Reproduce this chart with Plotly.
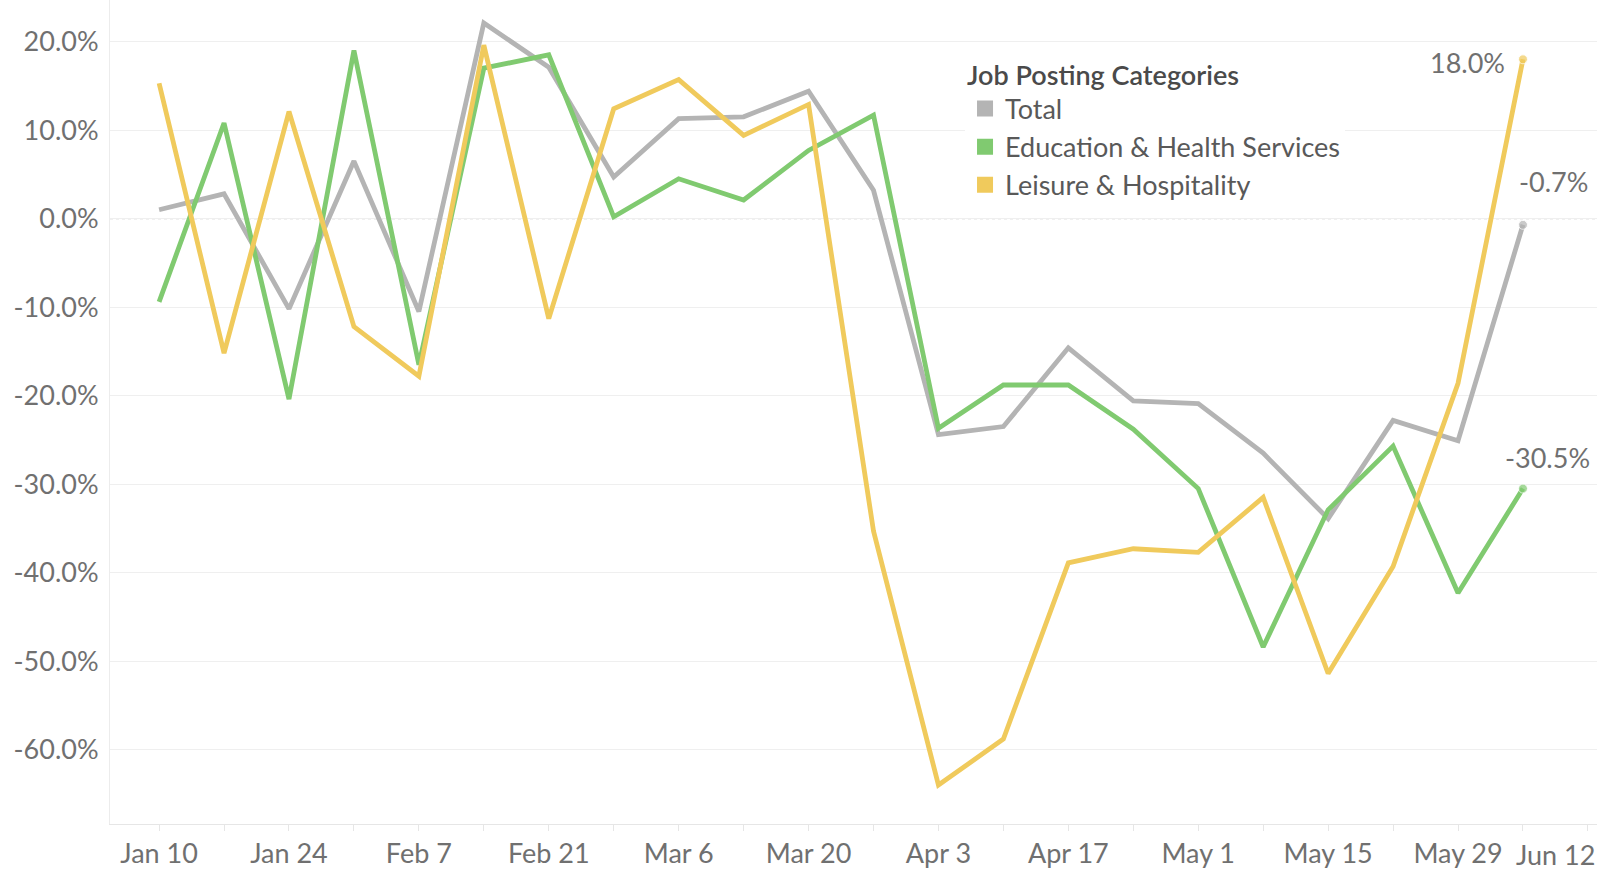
import plotly.graph_objects as go

# ---------------- data ----------------
dates = ["2020-01-10", "2020-01-17", "2020-01-24", "2020-01-31", "2020-02-07", "2020-02-14",
         "2020-02-21", "2020-02-28", "2020-03-06", "2020-03-13", "2020-03-20", "2020-03-27",
         "2020-04-03", "2020-04-10", "2020-04-17", "2020-04-24", "2020-05-01", "2020-05-08",
         "2020-05-15", "2020-05-22", "2020-05-29", "2020-06-05"]

total = [1.0, 2.8, -10.2, 6.5, -10.5, 22.1, 17.1, 4.7, 11.3, 11.5, 14.4, 3.2,
         -24.4, -23.5, -14.6, -20.6, -20.9, -26.5, -33.9, -22.8, -25.1, -0.7]

education = [-9.4, 10.8, -20.4, 19.0, -16.5, 17.0, 18.5, 0.2, 4.5, 2.1, 7.7, 11.7,
             -23.7, -18.8, -18.8, -23.8, -30.5, -48.4, -32.9, -25.7, -42.3, -30.5]

leisure = [15.3, -15.2, 12.1, -12.2, -17.8, 19.6, -11.3, 12.4, 15.7, 9.4, 12.9, -35.3,
           -64.0, -58.8, -38.9, -37.3, -37.7, -31.5, -51.4, -39.3, -18.6, 18.0]

series_names = ["Total", "Education & Health Services", "Leisure & Hospitality"]
series_values = [total, education, leisure]
series_colors = ["#b4b4b4", "#80ca70", "#f0ca5c"]

x_tick_dates = ["2020-01-10", "2020-01-24", "2020-02-07", "2020-02-21", "2020-03-06",
                "2020-03-20", "2020-04-03", "2020-04-17", "2020-05-01", "2020-05-15",
                "2020-05-29"]
x_tick_labels = ["Jan 10", "Jan 24", "Feb 7", "Feb 21", "Mar 6", "Mar 20", "Apr 3",
                 "Apr 17", "May 1", "May 15", "May 29"]
last_tick_label = "Jun 12"

y_tick_vals = [20, 10, 0, -10, -20, -30, -40, -50, -60]
y_tick_labels = ["20.0%", "10.0%", "0.0%", "-10.0%", "-20.0%", "-30.0%", "-40.0%",
                 "-50.0%", "-60.0%"]

legend_title = "Job Posting Categories"

# ---------------- style ----------------
FONT = "Lato"
TICK_COLOR = "#707070"
TEXT_COLOR = "#595959"
FS = 27

fig = go.Figure()

n = len(dates)
for name, vals, col in zip(series_names, series_values, series_colors):
    fig.add_trace(go.Scatter(
        x=dates, y=vals, mode="lines+markers", name=name, showlegend=False,
        line=dict(color=col, width=4.8),
        marker=dict(size=[0] * (n - 1) + [9], color=col),
        hoverinfo="skip",
    ))

# legend entries (square swatches)
for i, (name, col) in enumerate(zip(series_names, series_colors)):
    fig.add_trace(go.Scatter(
        x=[None], y=[None], mode="markers", name=name, legendgroup=f"g{i}",
        marker=dict(symbol="square", size=20, color=col),
    ))

# end-value labels
label_offsets = {"Total": (31, 43), "Education & Health Services": (25, 31),
                 "Leisure & Hospitality": (-55, -3)}
for name, vals in zip(series_names, series_values):
    dx, dy = label_offsets[name]
    fig.add_annotation(
        x=dates[-1], y=vals[-1], text=f"{vals[-1]:.1f}%", showarrow=False,
        xshift=dx, yshift=dy, xanchor="center", yanchor="middle",
        font=dict(family=FONT, size=FS, color=TICK_COLOR),
    )

# last x tick label, kept inside the plot like the original
fig.add_annotation(
    xref="paper", yref="paper", x=1.0, y=0, xanchor="right", yanchor="top",
    yshift=-12, text=last_tick_label, showarrow=False,
    font=dict(family=FONT, size=FS, color=TICK_COLOR),
)

# dotted zero line
fig.add_hline(y=0, line=dict(color="#c4c4c4", width=1.2, dash="dot"), layer="below")

fig.update_layout(
    width=1611, height=872,
    margin=dict(l=110, r=14, t=0, b=48),
    paper_bgcolor="white", plot_bgcolor="white",
    font=dict(family=FONT, size=FS, color=TEXT_COLOR),
    showlegend=True,
    legend=dict(
        title=dict(text=legend_title,
                   font=dict(family=FONT, size=FS, color="#4a4a4a", weight=600)),
        x=0.575, y=0.94, xanchor="left", yanchor="top",
        bgcolor="white", borderwidth=0, tracegroupgap=0,
        font=dict(family=FONT, size=FS, color=TEXT_COLOR),
        itemsizing="trace",
    ),
    xaxis=dict(
        type="date", range=["2020-01-04 17:00", "2020-06-12 23:30"],
        tickvals=x_tick_dates, ticktext=x_tick_labels,
        showgrid=False, zeroline=False,
        showline=True, linecolor="#e6e6e6", linewidth=1,
        ticks="outside", ticklen=6, tickcolor="#e6e6e6",
        minor=dict(ticks="outside", ticklen=6, tickcolor="#e6e6e6", dtick=7 * 86400000,
                   tick0="2020-01-10", showgrid=False),
        tickfont=dict(family=FONT, size=FS, color=TICK_COLOR),
        automargin=False, fixedrange=True,
    ),
    yaxis=dict(
        range=[-68.4, 24.7],
        tickvals=y_tick_vals, ticktext=y_tick_labels,
        showgrid=True, gridcolor="#efefef", gridwidth=1,
        zeroline=False,
        showline=True, linecolor="#ececec", linewidth=1,
        ticks="", ticklabelstandoff=5,
        tickfont=dict(family=FONT, size=FS, color=TICK_COLOR),
        automargin=False, fixedrange=True,
    ),
)

fig.write_html(
    "out.html",
    config={"displayModeBar": False, "staticPlot": True},
    post_script="document.body.style.margin='0';document.body.style.overflow='hidden';",
)
